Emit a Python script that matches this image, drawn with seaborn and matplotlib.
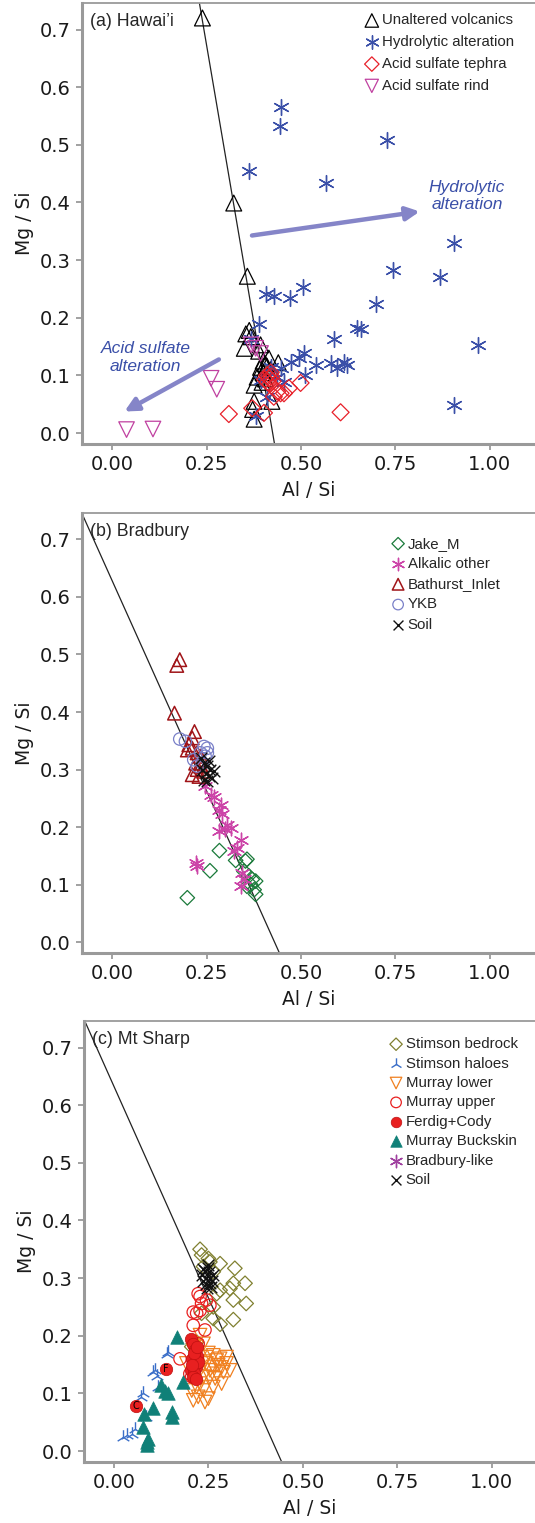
import numpy as np
import pandas as pd
import matplotlib
matplotlib.use('Agg')
import matplotlib.pyplot as plt
import seaborn as sns

# ---------------- data: panel (a) Hawai'i ----------------
unaltered_x = [0.239, 0.322, 0.358, 0.354, 0.363, 0.367, 0.350, 0.393, 0.388, 0.400, 0.440,
               0.393, 0.400, 0.384, 0.397, 0.376, 0.410, 0.406, 0.376, 0.423, 0.372, 0.376,
               0.415, 0.420, 0.405]
unaltered_y = [0.720, 0.399, 0.272, 0.172, 0.178, 0.167, 0.147, 0.153, 0.142, 0.125, 0.122,
               0.114, 0.105, 0.097, 0.088, 0.083, 0.116, 0.094, 0.055, 0.055, 0.041, 0.024,
               0.130, 0.110, 0.120]

hydro_x = [0.446, 0.444, 0.729, 0.362, 0.567, 0.905, 0.744, 0.868, 0.506, 0.408, 0.428,
           0.471, 0.698, 0.389, 0.649, 0.658, 0.587, 0.969, 0.367, 0.508, 0.495, 0.473,
           0.539, 0.579, 0.614, 0.623, 0.596, 0.512, 0.446, 0.420, 0.437, 0.455, 0.411,
           0.380, 0.905, 0.393]
hydro_y = [0.566, 0.533, 0.508, 0.455, 0.434, 0.330, 0.283, 0.270, 0.253, 0.241, 0.238,
           0.235, 0.224, 0.190, 0.182, 0.180, 0.164, 0.153, 0.164, 0.138, 0.130, 0.124,
           0.118, 0.121, 0.124, 0.118, 0.112, 0.101, 0.112, 0.115, 0.098, 0.089, 0.063,
           0.029, 0.049, 0.092]

tephra_x = [0.309, 0.605, 0.371, 0.402, 0.499, 0.468, 0.446, 0.428, 0.410, 0.415, 0.420,
            0.425, 0.412, 0.418, 0.405, 0.422, 0.437, 0.455]
tephra_y = [0.033, 0.036, 0.043, 0.035, 0.087, 0.078, 0.069, 0.063, 0.100, 0.095, 0.105,
            0.090, 0.088, 0.085, 0.093, 0.098, 0.072, 0.069]

rind_x = [0.038, 0.108, 0.262, 0.277, 0.368, 0.380, 0.393]
rind_y = [0.006, 0.007, 0.095, 0.076, 0.153, 0.147, 0.138]

line_a_x = [0.231, 0.430]
line_a_y = [0.746, -0.019]

# ---------------- data: panel (b) Bradbury ----------------
jake_x = [0.199, 0.259, 0.284, 0.327, 0.353, 0.357, 0.349, 0.362, 0.371, 0.380, 0.367,
          0.376, 0.380, 0.357]
jake_y = [0.077, 0.124, 0.159, 0.142, 0.141, 0.144, 0.123, 0.115, 0.109, 0.106, 0.100,
          0.091, 0.083, 0.097]

alkalic_x = [0.221, 0.225, 0.261, 0.269, 0.287, 0.283, 0.292, 0.305, 0.314, 0.300, 0.283,
             0.340, 0.331, 0.322, 0.345, 0.340, 0.349, 0.247]
alkalic_y = [0.138, 0.133, 0.256, 0.253, 0.239, 0.230, 0.222, 0.204, 0.198, 0.196, 0.193,
             0.177, 0.164, 0.158, 0.120, 0.097, 0.109, 0.271]

bathurst_x = [0.179, 0.171, 0.165, 0.218, 0.212, 0.203, 0.199, 0.212, 0.225, 0.234, 0.221,
              0.234, 0.212, 0.230, 0.243, 0.225]
bathurst_y = [0.491, 0.481, 0.398, 0.366, 0.355, 0.343, 0.334, 0.337, 0.329, 0.323, 0.311,
              0.306, 0.291, 0.288, 0.297, 0.300]

ykb_x = [0.179, 0.194, 0.252, 0.243, 0.234, 0.246, 0.216, 0.225, 0.252, 0.239]
ykb_y = [0.353, 0.349, 0.337, 0.340, 0.329, 0.323, 0.317, 0.306, 0.329, 0.311]

soil_b_x = [0.243, 0.252, 0.260, 0.248, 0.256, 0.269, 0.243, 0.252, 0.265, 0.238, 0.256, 0.234]
soil_b_y = [0.311, 0.306, 0.300, 0.294, 0.288, 0.297, 0.282, 0.280, 0.285, 0.300, 0.314, 0.320]

line_b_x = [-0.080, 0.443]
line_b_y = [0.745, -0.019]

# ---------------- data: panel (c) Mt Sharp ----------------
stim_bed_x = [0.228, 0.232, 0.250, 0.254, 0.281, 0.320, 0.237, 0.263, 0.347, 0.316, 0.307,
              0.281, 0.272, 0.316, 0.350, 0.263, 0.232, 0.263, 0.316, 0.281, 0.210, 0.206,
              0.219]
stim_bed_y = [0.350, 0.340, 0.334, 0.328, 0.325, 0.317, 0.320, 0.311, 0.291, 0.291, 0.282,
              0.279, 0.273, 0.262, 0.256, 0.250, 0.239, 0.230, 0.228, 0.220, 0.186, 0.181,
              0.189]

stim_halo_x = [0.144, 0.140, 0.109, 0.104, 0.113, 0.117, 0.078, 0.072, 0.086, 0.056, 0.047,
               0.025, 0.034]
stim_halo_y = [0.172, 0.169, 0.140, 0.137, 0.131, 0.111, 0.100, 0.094, 0.059, 0.039, 0.030,
               0.024, 0.027]

mlower_x = [0.228, 0.210, 0.245, 0.263, 0.281, 0.298, 0.307, 0.285, 0.272, 0.245, 0.228,
            0.237, 0.219, 0.237, 0.210, 0.241, 0.250, 0.263, 0.276, 0.290, 0.254, 0.228,
            0.219, 0.237, 0.254, 0.268, 0.206, 0.223, 0.192, 0.272, 0.298, 0.228, 0.263,
            0.250, 0.285, 0.240]
mlower_y = [0.201, 0.175, 0.163, 0.166, 0.160, 0.152, 0.140, 0.117, 0.134, 0.152, 0.140,
            0.129, 0.111, 0.105, 0.088, 0.085, 0.091, 0.146, 0.149, 0.137, 0.128, 0.163,
            0.181, 0.186, 0.140, 0.126, 0.105, 0.094, 0.152, 0.157, 0.163, 0.117, 0.111,
            0.170, 0.145, 0.155]

mupper_x = [0.223, 0.228, 0.245, 0.254, 0.232, 0.210, 0.219, 0.228, 0.210, 0.241, 0.175,
            0.206, 0.201, 0.219, 0.223]
mupper_y = [0.273, 0.268, 0.262, 0.253, 0.256, 0.241, 0.239, 0.244, 0.218, 0.210, 0.160,
            0.129, 0.134, 0.152, 0.186]

ferdig_x = [0.058, 0.137, 0.205, 0.210, 0.215, 0.220, 0.208, 0.212, 0.218, 0.205, 0.213,
            0.222, 0.209, 0.216, 0.211, 0.219, 0.207]
ferdig_y = [0.079, 0.143, 0.195, 0.185, 0.175, 0.165, 0.160, 0.150, 0.145, 0.140, 0.135,
            0.155, 0.128, 0.125, 0.170, 0.180, 0.150]
ferdig_tags = ['C', 'F']

buckskin_x = [0.168, 0.182, 0.126, 0.135, 0.144, 0.104, 0.079, 0.153, 0.155, 0.076, 0.087,
              0.088, 0.091]
buckskin_y = [0.198, 0.120, 0.114, 0.105, 0.100, 0.074, 0.065, 0.068, 0.059, 0.042, 0.016,
              0.010, 0.021]

bradbury_like_x = []
bradbury_like_y = []

soil_c_x = [0.232, 0.240, 0.248, 0.255, 0.260, 0.237, 0.245, 0.252, 0.258, 0.243, 0.250,
            0.235, 0.262, 0.247, 0.254]
soil_c_y = [0.305, 0.312, 0.318, 0.300, 0.295, 0.295, 0.290, 0.310, 0.285, 0.300, 0.322,
            0.315, 0.305, 0.283, 0.292]

line_c_x = [-0.077, 0.444]
line_c_y = [0.746, -0.019]

# ---------------- style ----------------
sns.set_style('ticks')
plt.rcParams['font.family'] = ['DejaVu Sans']
SPINE = '#9a9a9a'
ASTER = (6, 2, 0)

fig = plt.figure(figsize=(5.35, 15.23), dpi=100)
W, H = 535, 1523


def make_ax(left, top, bottom, xlim):
    ax = fig.add_axes([left / W, (H - bottom) / H, 1 - left / W, (bottom - top) / H])
    ax.set_xlim(*xlim)
    ax.set_ylim(-0.019, 0.746)
    ax.set_xticks([0, 0.25, 0.5, 0.75, 1.0])
    ax.set_xticklabels(['0.00', '0.25', '0.50', '0.75', '1.00'])
    ax.set_yticks(np.arange(0, 0.71, 0.1))
    ax.set_yticklabels(['%.1f' % v for v in np.arange(0, 0.71, 0.1)])
    ax.spines['right'].set_visible(False)
    for s in ['left', 'bottom']:
        ax.spines[s].set_color(SPINE)
        ax.spines[s].set_linewidth(2.2)
    ax.spines['top'].set_color(SPINE)
    ax.spines['top'].set_linewidth(1.3)
    ax.tick_params(colors=SPINE, labelcolor='#1a1a1a', length=4, width=1.3,
                   labelsize=14, pad=4)
    ax.set_xlabel('Al / Si', fontsize=13.5, color='#1a1a1a', labelpad=5)
    ax.set_ylabel('Mg / Si', fontsize=13.5, color='#1a1a1a', labelpad=4)
    return ax


def open_pts(ax, x, y, marker, color, s, label, lw=0.9):
    sns.scatterplot(x=x, y=y, marker=marker, s=s, facecolors='none', edgecolor=color,
                    linewidth=lw, ax=ax, label=label, zorder=3)


def line_pts(ax, x, y, marker, color, s, label, lw=0.9):
    sns.scatterplot(x=x, y=y, marker=marker, s=s, color=color, linewidth=lw,
                    ax=ax, label=label, zorder=3)


def filled_pts(ax, x, y, marker, color, s, label, ec, lw=0.5):
    sns.scatterplot(x=x, y=y, marker=marker, s=s, color=color, edgecolor=ec,
                    linewidth=lw, ax=ax, label=label, zorder=3)


def legend(ax, anchor, spacing):
    leg = ax.legend(loc='upper left', bbox_to_anchor=anchor, frameon=False,
                    prop={'family': 'Liberation Sans', 'size': 10.8},
                    handletextpad=0.15, labelspacing=spacing, borderaxespad=0,
                    handlelength=1.0, markerscale=0.85)
    return leg


def panel_title(ax, text):
    ax.text(0.018, 0.978, text, transform=ax.transAxes, ha='left', va='top',
            fontsize=12.8, family='Liberation Sans')


# ---------------- panel (a) ----------------
ax = make_ax(82, 3, 444, (-0.08, 1.12))
ax.plot(line_a_x, line_a_y, color='#222222', lw=0.9, zorder=2)
open_pts(ax, unaltered_x, unaltered_y, '^', 'black', 130, 'Unaltered volcanics')
line_pts(ax, hydro_x, hydro_y, ASTER, '#3a4fa8', 130, 'Hydrolytic alteration', lw=1.0)
open_pts(ax, tephra_x, tephra_y, 'D', '#e8202a', 75, 'Acid sulfate tephra')
open_pts(ax, rind_x, rind_y, 'v', '#c040a0', 125, 'Acid sulfate rind')
ax.annotate('', xy=(0.822, 0.385), xytext=(0.363, 0.342),
            arrowprops=dict(arrowstyle='-|>', color='#8585c8', lw=3.2, mutation_scale=20))
ax.annotate('', xy=(0.026, 0.035), xytext=(0.289, 0.130),
            arrowprops=dict(arrowstyle='-|>', color='#8585c8', lw=3.2, mutation_scale=20))
ax.text(0.94, 0.411, 'Hydrolytic\nalteration', ha='center', va='center', fontsize=12.5,
        style='italic', color='#3a4fa8', family='Liberation Sans', linespacing=1.2)
ax.text(0.088, 0.131, 'Acid sulfate\nalteration', ha='center', va='center', fontsize=12.5,
        style='italic', color='#3a4fa8', family='Liberation Sans', linespacing=1.2)
panel_title(ax, '(a) Hawai\u2019i')
legend(ax, (0.61, 0.99), 0.52)

# ---------------- panel (b) ----------------
ax = make_ax(82, 513, 953, (-0.08, 1.12))
ax.plot(line_b_x, line_b_y, color='#222222', lw=0.9, zorder=2)
open_pts(ax, jake_x, jake_y, 'D', '#1a7a3a', 55, 'Jake_M')
line_pts(ax, alkalic_x, alkalic_y, ASTER, '#cc44a8', 110, 'Alkalic other', lw=1.0)
open_pts(ax, bathurst_x, bathurst_y, '^', '#a01418', 95, 'Bathurst_Inlet', lw=1.1)
open_pts(ax, ykb_x, ykb_y, 'o', '#7a80c8', 80, 'YKB')
line_pts(ax, soil_b_x, soil_b_y, 'x', '#111111', 70, 'Soil', lw=1.0)
panel_title(ax, '(b) Bradbury')
legend(ax, (0.668, 0.96), 0.42)

# ---------------- panel (c) ----------------
ax = make_ax(84, 1021, 1462, (-0.079, 1.114))
ax.plot(line_c_x, line_c_y, color='#222222', lw=0.9, zorder=2)
open_pts(ax, stim_bed_x, stim_bed_y, 'D', '#808030', 55, 'Stimson bedrock')
line_pts(ax, stim_halo_x, stim_halo_y, '2', '#3a6ec8', 110, 'Stimson haloes', lw=1.0)
open_pts(ax, mlower_x, mlower_y, 'v', '#f08020', 95, 'Murray lower')
open_pts(ax, mupper_x, mupper_y, 'o', '#e82020', 80, 'Murray upper')
filled_pts(ax, ferdig_x, ferdig_y, 'o', '#e82020', 80, 'Ferdig+Cody', ec='#c01010')
filled_pts(ax, buckskin_x, buckskin_y, '^', '#108078', 95, 'Murray Buckskin', ec='#108078')
# no Bradbury-like points in this panel; seaborn skips empty data, so scatter directly
ax.scatter(bradbury_like_x, bradbury_like_y, marker=ASTER, s=110, color='#a040a0',
           linewidth=1.0, label='Bradbury-like')
line_pts(ax, soil_c_x, soil_c_y, 'x', '#111111', 70, 'Soil', lw=1.0)
for tx, ty, tag in zip(ferdig_x[:2], ferdig_y[:2], ferdig_tags):
    ax.text(tx, ty, tag, ha='center', va='center', fontsize=7, color='black', zorder=4)
panel_title(ax, '(c) Mt Sharp')
legend(ax, (0.662, 0.977), 0.36)

fig.savefig('out.png', dpi=100)
